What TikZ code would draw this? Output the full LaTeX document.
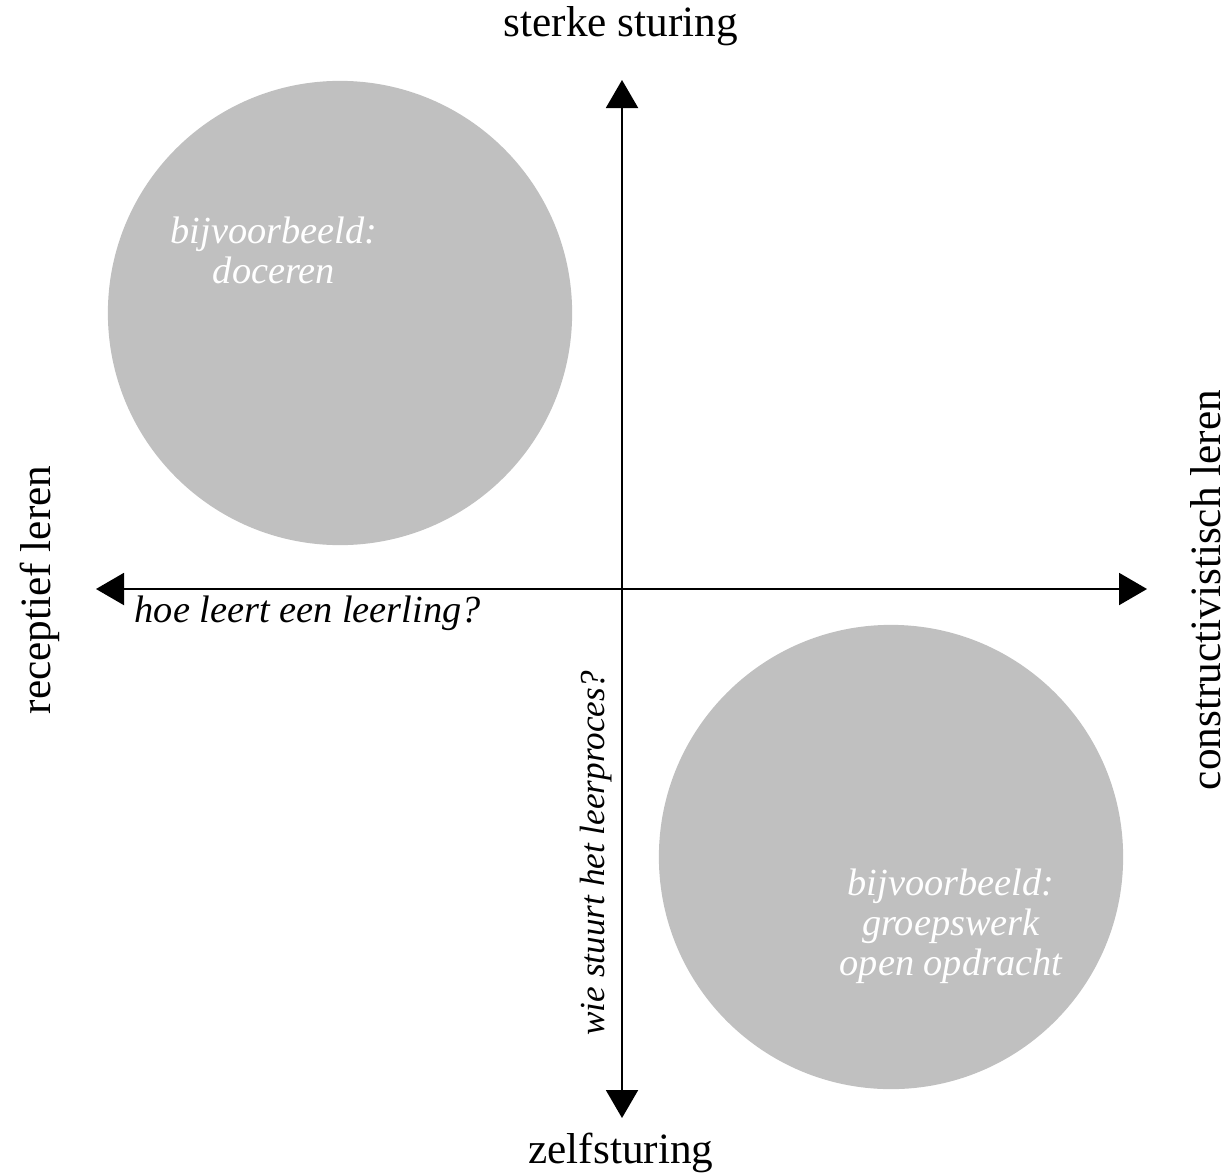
\documentclass[tikz,border=0pt]{standalone}
\usepackage{fontspec}
\setmainfont{Liberation Serif}
\usepackage{tikz}
\usetikzlibrary{arrows.meta}

\definecolor{blobgray}{HTML}{C0C0C0}

\begin{document}
\begin{tikzpicture}[x=0.01cm,y=-0.01cm,
		axis/.style={{Triangle[width=0.32cm,length=0.28cm]}-{Triangle[width=0.32cm,length=0.28cm]},line width=0.02cm,black},
		blob/.style={circle,fill=blobgray,minimum size=4.64cm,inner sep=0pt},
		axis label/.style={font=\fontsize{12.3}{14}\selectfont,inner sep=0pt,anchor=base},
		question/.style={font=\fontsize{10.9}{12}\selectfont\itshape,inner sep=0pt,anchor=base},
		example/.style={font=\fontsize{10.9}{11.4}\selectfont\itshape,text=white,align=center,inner sep=0pt,anchor=north}]
		
		\useasboundingbox (0,0) rectangle (1228,1173);
		
		\node[blob](doc) at (340,313){};
		\node[blob](groep) at (891,857){};
		
		\node[example](docText) at (274,216){bijvoorbeeld:\\doceren};
		\node[example](groepText) at (951,868){bijvoorbeeld:\\groepswerk\\open opdracht};
		
		\coordinate (top) at (622,80);
		\coordinate (bottom) at (622,1118);
		\coordinate (left) at (96,589);
		\coordinate (right) at (1147,589);
		
		\draw[axis] (left) -- (right);
		\draw[axis] (top) -- (bottom);
		
		\node[axis label](sterk) at (621,37){sterke sturing};
		\node[axis label](zelf) at (621,1163){zelfsturing};
		\node[axis label,rotate=90](recep) at (51,590){receptief leren};
		\node[axis label,rotate=90](constr) at (1220,590){constructivistisch leren};
		
		\node[question,anchor=base west](hoe) at (134,622){hoe leert een leerling?};
		\node[question,rotate=90,font=\fontsize{10}{12}\selectfont\itshape](wie) at (604,853){wie stuurt het leerproces?};
		
	\end{tikzpicture}
\end{document}
